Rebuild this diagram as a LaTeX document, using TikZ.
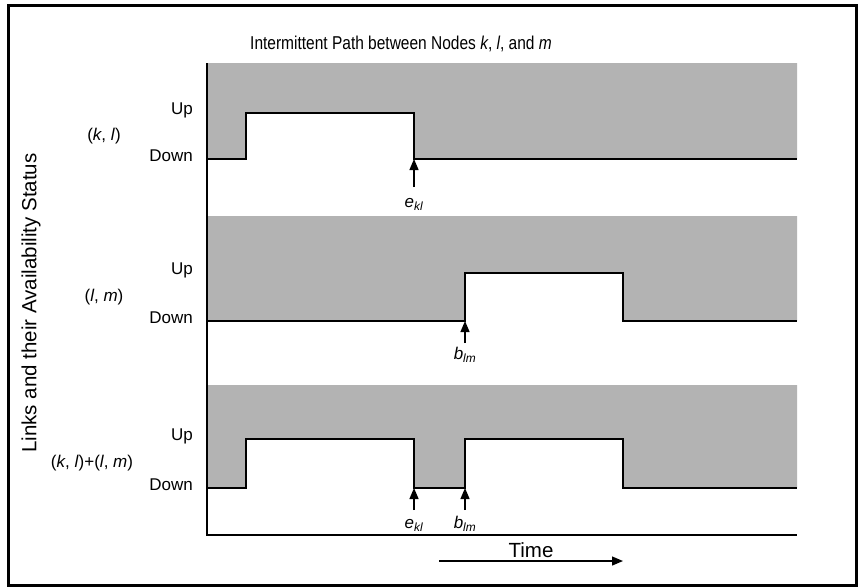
\documentclass[tikz,border=0pt]{standalone}
\usepackage{fontspec}
\setmainfont{Liberation Sans}
\usetikzlibrary{positioning, arrows.meta}
\definecolor{offgray}{RGB}{179,179,179}
\tikzset{
  lbl/.style={draw=none,fill=none,inner sep=1pt,font=\fontsize{17}{19}\selectfont},
  sig/.style={line width=1.5pt},
  tick/.style={-{Triangle[length=11pt,width=9pt]},line width=1.3pt},
}

\begin{document}
\begin{tikzpicture}[x=1pt,y=-1pt]
  \useasboundingbox (0,0) rectangle (858,587);
  \draw[line width=3pt] (8,5) rectangle (856,585);

  % shaded areas above each status line
  \fill[offgray] (207,63) -- (797,63) -- (797,159) -- (414,159) -- (414,113) -- (246,113) -- (246,159) -- (207,159) -- cycle;
  \fill[offgray] (207,216) -- (797,216) -- (797,321) -- (623,321) -- (623,273) -- (465,273) -- (465,321) -- (207,321) -- cycle;
  \fill[offgray] (207,385) -- (797,385) -- (797,488) -- (623,488) -- (623,439) -- (465,439) -- (465,488) -- (414,488) -- (414,439) -- (246,439) -- (246,488) -- (207,488) -- cycle;

  % status lines
  \draw[sig] (207,159) -- (246,159) -- (246,113) -- (414,113) -- (414,159) -- (797,159);
  \draw[sig] (207,321) -- (465,321) -- (465,273) -- (623,273) -- (623,321) -- (797,321);
  \draw[sig] (207,488) -- (246,488) -- (246,439) -- (414,439) -- (414,488) -- (465,488) -- (465,439) -- (623,439) -- (623,488) -- (797,488);

  % axes
  \draw[sig] (207,63) -- (207,535) -- (797,535);

  \node[lbl, yscale=1.2, font=\fontsize{15.5}{18}\selectfont] (title) at (401,44) {Intermittent Path between Nodes \textit{k}, \textit{l}, and \textit{m}};
  \node[lbl, rotate=90, font=\fontsize{20.5}{23}\selectfont] (ylab) at (31,303) {Links and their Availability Status};

  \node[lbl, anchor=east] (up1) at (194,110) {Up};
  \node[lbl, anchor=east] (down1) at (194,156) {Down};
  \node[lbl, anchor=east] (up2) at (194,270) {Up};
  \node[lbl, anchor=east] (down2) at (194,318) {Down};
  \node[lbl, anchor=east] (up3) at (194,436) {Up};
  \node[lbl, anchor=east] (down3) at (194,485) {Down};

  \node[lbl] (kl) at (104,136) {(\textit{k}, \textit{l})};
  \node[lbl] (lm) at (104,297) {(\textit{l}, \textit{m})};
  \node[lbl] (klm) at (92,463) {(\textit{k}, \textit{l})+(\textit{l}, \textit{m})};

  % event marks
  \coordinate (e1) at (414,159);
  \coordinate (b2) at (465,321);
  \coordinate (e3) at (414,488);
  \coordinate (b3) at (465,488);
  \coordinate (e1tail) at (414,187);
  \coordinate (b2tail) at (465,343);
  \coordinate (e3tail) at (414,510);
  \coordinate (b3tail) at (465,510);
  \node[lbl, below=10pt of e1tail] (ekl1) {\textit{e}\textsubscript{\textit{kl}}};
  \node[lbl, below=3pt of b2tail] (blm2) {\textit{b}\textsubscript{\textit{lm}}};
  \node[lbl, below=8pt of e3tail] (ekl3) {\textit{e}\textsubscript{\textit{kl}}};
  \node[lbl, below=5pt of b3tail] (blm3) {\textit{b}\textsubscript{\textit{lm}}};
  \draw[tick] (e1tail) -- (e1);
  \draw[tick] (b2tail) -- (b2);
  \draw[tick] (e3tail) -- (e3);
  \draw[tick] (b3tail) -- (b3);

  % time direction
  \coordinate (t0) at (439,561);
  \coordinate (t1) at (623,561);
  \draw[tick] (t0) -- node[lbl, above=2pt, font=\fontsize{20.5}{23}\selectfont] (time) {Time} (t1);
\end{tikzpicture}
\end{document}
